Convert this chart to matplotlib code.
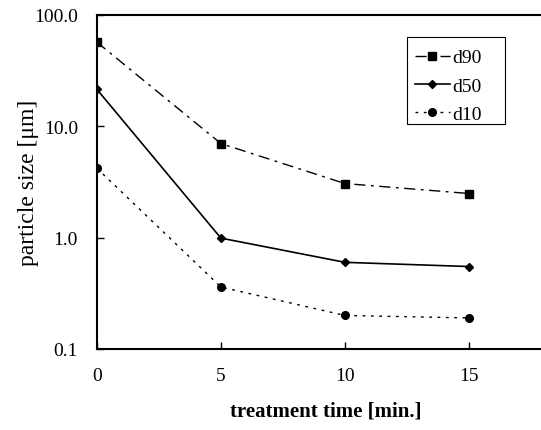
import numpy as np
import matplotlib
matplotlib.use('Agg')
import matplotlib.pyplot as plt
from matplotlib.patches import Rectangle

# Datos
tiempo = [0, 5, 10, 15]
d90 = [57.0, 7.0, 3.06, 2.49]
d50 = [21.5, 0.99, 0.60, 0.55]
d10 = [4.2, 0.36, 0.20, 0.19]
ytick_vals = [0.1, 1.0, 10.0, 100.0]
ytick_labels = ['0.1', '1.0', '10.0', '100.0']

plt.rcParams['font.family'] = 'Liberation Serif'

fig = plt.figure(figsize=(5.41, 4.31), dpi=100)
ax = fig.add_axes([0.179, 0.188, 0.821, 0.775])

ax.plot(tiempo, d90, color='black', linestyle=(0, (8, 4, 2, 4)), linewidth=1.0,
        marker='s', markersize=6, label='d90')
ax.plot(tiempo, d50, color='black', linestyle='-', linewidth=1.2,
        marker='D', markersize=4, label='d50')
ax.plot(tiempo, d10, color='black', linestyle=(0, (2, 4)), linewidth=1.0,
        marker='o', markersize=5.5, label='d10')

ax.set_yscale('log')
ax.set_ylim(0.1, 100)
ax.set_xlim(0, 17.9)
ax.set_yticks(ytick_vals)
ax.set_yticklabels(ytick_labels)
ax.yaxis.set_minor_locator(matplotlib.ticker.NullLocator())
ax.set_xticks(tiempo)
ax.tick_params(direction='in', length=5, width=1, labelsize=14)
ax.tick_params(axis='y', pad=13.5)
ax.tick_params(axis='x', pad=13)

ax.spines['right'].set_visible(False)
for s in ['left', 'bottom', 'top']:
    ax.spines[s].set_linewidth(1.5)

ax.set_ylabel('particle size [μm]', fontsize=17)
ax.yaxis.set_label_coords(-0.13, 0.5)
ax.set_xlabel('treatment time [min.]', fontsize=15, fontweight='bold')
ax.xaxis.set_label_coords(0.516, -0.155)

# Leyenda sin marco + recuadro aparte (mas ancho, como el original)
leg = ax.legend(loc='upper left', bbox_to_anchor=(0.698, 0.922), fontsize=14,
                frameon=False, handlelength=1.8, handletextpad=0.15,
                labelspacing=0.55, borderpad=0.4, borderaxespad=0)
ax.add_patch(Rectangle((0.698, 0.674), 0.221, 0.26, transform=ax.transAxes,
                       fill=False, edgecolor='black', linewidth=0.8, zorder=5))

fig.savefig('out.png', dpi=100)
